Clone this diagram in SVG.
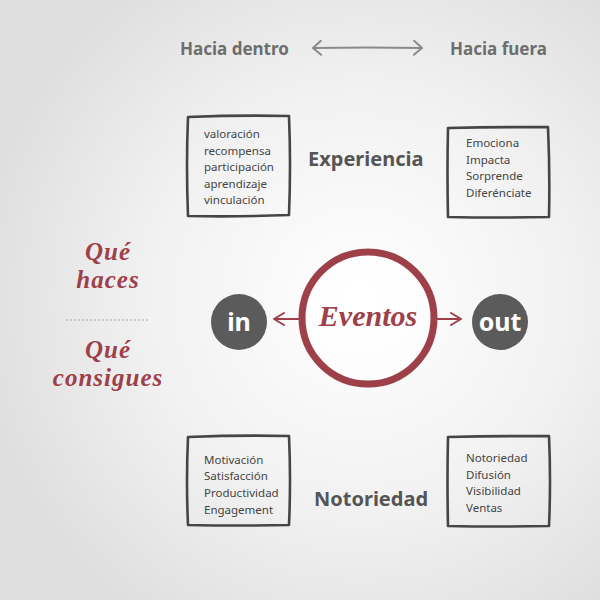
<svg xmlns="http://www.w3.org/2000/svg" width="600" height="600" viewBox="0 0 600 600">
<defs>
<radialGradient id="bg" cx="0.6" cy="0.5" r="0.65">
<stop offset="0" stop-color="#ffffff"/>
<stop offset="0.55" stop-color="#f1f1f1"/>
<stop offset="1" stop-color="#dedede"/>
</radialGradient>
<marker id="chev" viewBox="0 0 10 16" refX="9" refY="8" markerWidth="10" markerHeight="16" markerUnits="userSpaceOnUse" orient="auto-start-reverse">
<path d="M1,1 L9,8 L1,15" fill="none" stroke="#8a8a8a" stroke-width="2" stroke-linecap="round" stroke-linejoin="round"/>
</marker>
<marker id="chevR" viewBox="0 0 12 14" refX="11" refY="7" markerWidth="12" markerHeight="14" markerUnits="userSpaceOnUse" orient="auto-start-reverse">
<path d="M1,1 L11,7 L1,13" fill="none" stroke="#9e4049" stroke-width="2" stroke-linecap="round" stroke-linejoin="round"/>
</marker>
</defs>
<style>
.head{font-family:"Noto Sans","Open Sans",sans-serif;font-weight:700;font-size:17px;fill:#6e6e6e}
.big{font-family:"Noto Sans","Open Sans",sans-serif;font-weight:700;font-size:20px;fill:#555555}
.item{font-family:"Noto Sans","Open Sans",sans-serif;font-size:11.5px;fill:#444444}
.box{fill:none;stroke:#454545;stroke-width:2.6;stroke-linejoin:round}
.script{font-family:"Liberation Serif","DejaVu Serif",serif;font-style:italic;font-weight:700;fill:#9e4049}
.side{font-size:25px;letter-spacing:1px}
.dot{fill:#5b5b5b}
.dotT{font-family:"Noto Sans","Open Sans",sans-serif;font-weight:700;font-size:25px;fill:#ffffff}
</style>
<rect width="600" height="600" fill="url(#bg)"/>
<g id="headers">
<text class="head" x="180" y="55">Hacia dentro</text>
<text class="head" x="450" y="55">Hacia fuera</text>
</g>
<g id="labels-left">
<text class="script side" text-anchor="middle"><tspan x="108" y="260">Qué</tspan><tspan x="108" dy="28">haces</tspan></text>
<line x1="66" y1="320" x2="148" y2="320" stroke="#aaaaaa" stroke-width="1" stroke-dasharray="2,2"/>
<text class="script side" text-anchor="middle"><tspan x="108" y="358">Qué</tspan><tspan x="108" dy="28">consigues</tspan></text>
</g>
<g id="box-experiencia-in">
<path class="box" d="M188,117 Q239,115 289,116 Q291,165 289,215 Q238,217 188,216 Q186,166 188,117 Z"/>
<text class="item" x="204" y="138">valoración</text>
<text class="item" x="204" y="155">recompensa</text>
<text class="item" x="204" y="171">participación</text>
<text class="item" x="204" y="188">aprendizaje</text>
<text class="item" x="204" y="204">vinculación</text>
</g>
<g id="experiencia">
<text class="big" x="308" y="166">Experiencia</text>
</g>
<g id="box-experiencia-out">
<path class="box" d="M448,128 Q498,127 548,127 Q550,172 549,217 Q498,218 448,217 Q447,172 448,128 Z"/>
<text class="item" x="466" y="147">Emociona</text>
<text class="item" x="466" y="164">Impacta</text>
<text class="item" x="466" y="180">Sorprende</text>
<text class="item" x="466" y="197">Diferénciate</text>
</g>
<g id="in">
<circle class="dot" cx="239" cy="322" r="28"/>
<text class="dotT" x="239" y="331" text-anchor="middle">in</text>
</g>
<g id="eventos">
<circle cx="368" cy="318" r="66" fill="#ffffff" fill-opacity="0.5" stroke="#9e4049" stroke-width="7"/>
<text class="script" x="368" y="326" font-size="30" text-anchor="middle">Eventos</text>
</g>
<g id="out">
<circle class="dot" cx="500" cy="322" r="28"/>
<text class="dotT" x="500" y="331" text-anchor="middle">out</text>
</g>
<g id="box-notoriedad-in">
<path class="box" d="M188,437 Q239,435 289,436 Q291,480 289,525 Q238,526 188,525 Q186,481 188,437 Z"/>
<text class="item" x="204" y="464">Motivación</text>
<text class="item" x="204" y="480">Satisfacción</text>
<text class="item" x="204" y="497">Productividad</text>
<text class="item" x="204" y="514">Engagement</text>
</g>
<g id="notoriedad">
<text class="big" x="314" y="506">Notoriedad</text>
</g>
<g id="box-notoriedad-out">
<path class="box" d="M448,437 Q498,436 549,436 Q551,481 549,526 Q498,527 448,526 Q447,481 448,437 Z"/>
<text class="item" x="466" y="462">Notoriedad</text>
<text class="item" x="466" y="479">Difusión</text>
<text class="item" x="466" y="495">Visibilidad</text>
<text class="item" x="466" y="512">Ventas</text>
</g>
<g id="connectors">
<path d="M313,48 Q367,47 422,48" fill="none" stroke="#8a8a8a" stroke-width="1.8" marker-start="url(#chev)" marker-end="url(#chev)"/>
<line x1="300" y1="319" x2="274" y2="319" stroke="#9e4049" stroke-width="2" marker-end="url(#chevR)"/>
<line x1="436" y1="319" x2="461" y2="319" stroke="#9e4049" stroke-width="2" marker-end="url(#chevR)"/>
</g>
</svg>
